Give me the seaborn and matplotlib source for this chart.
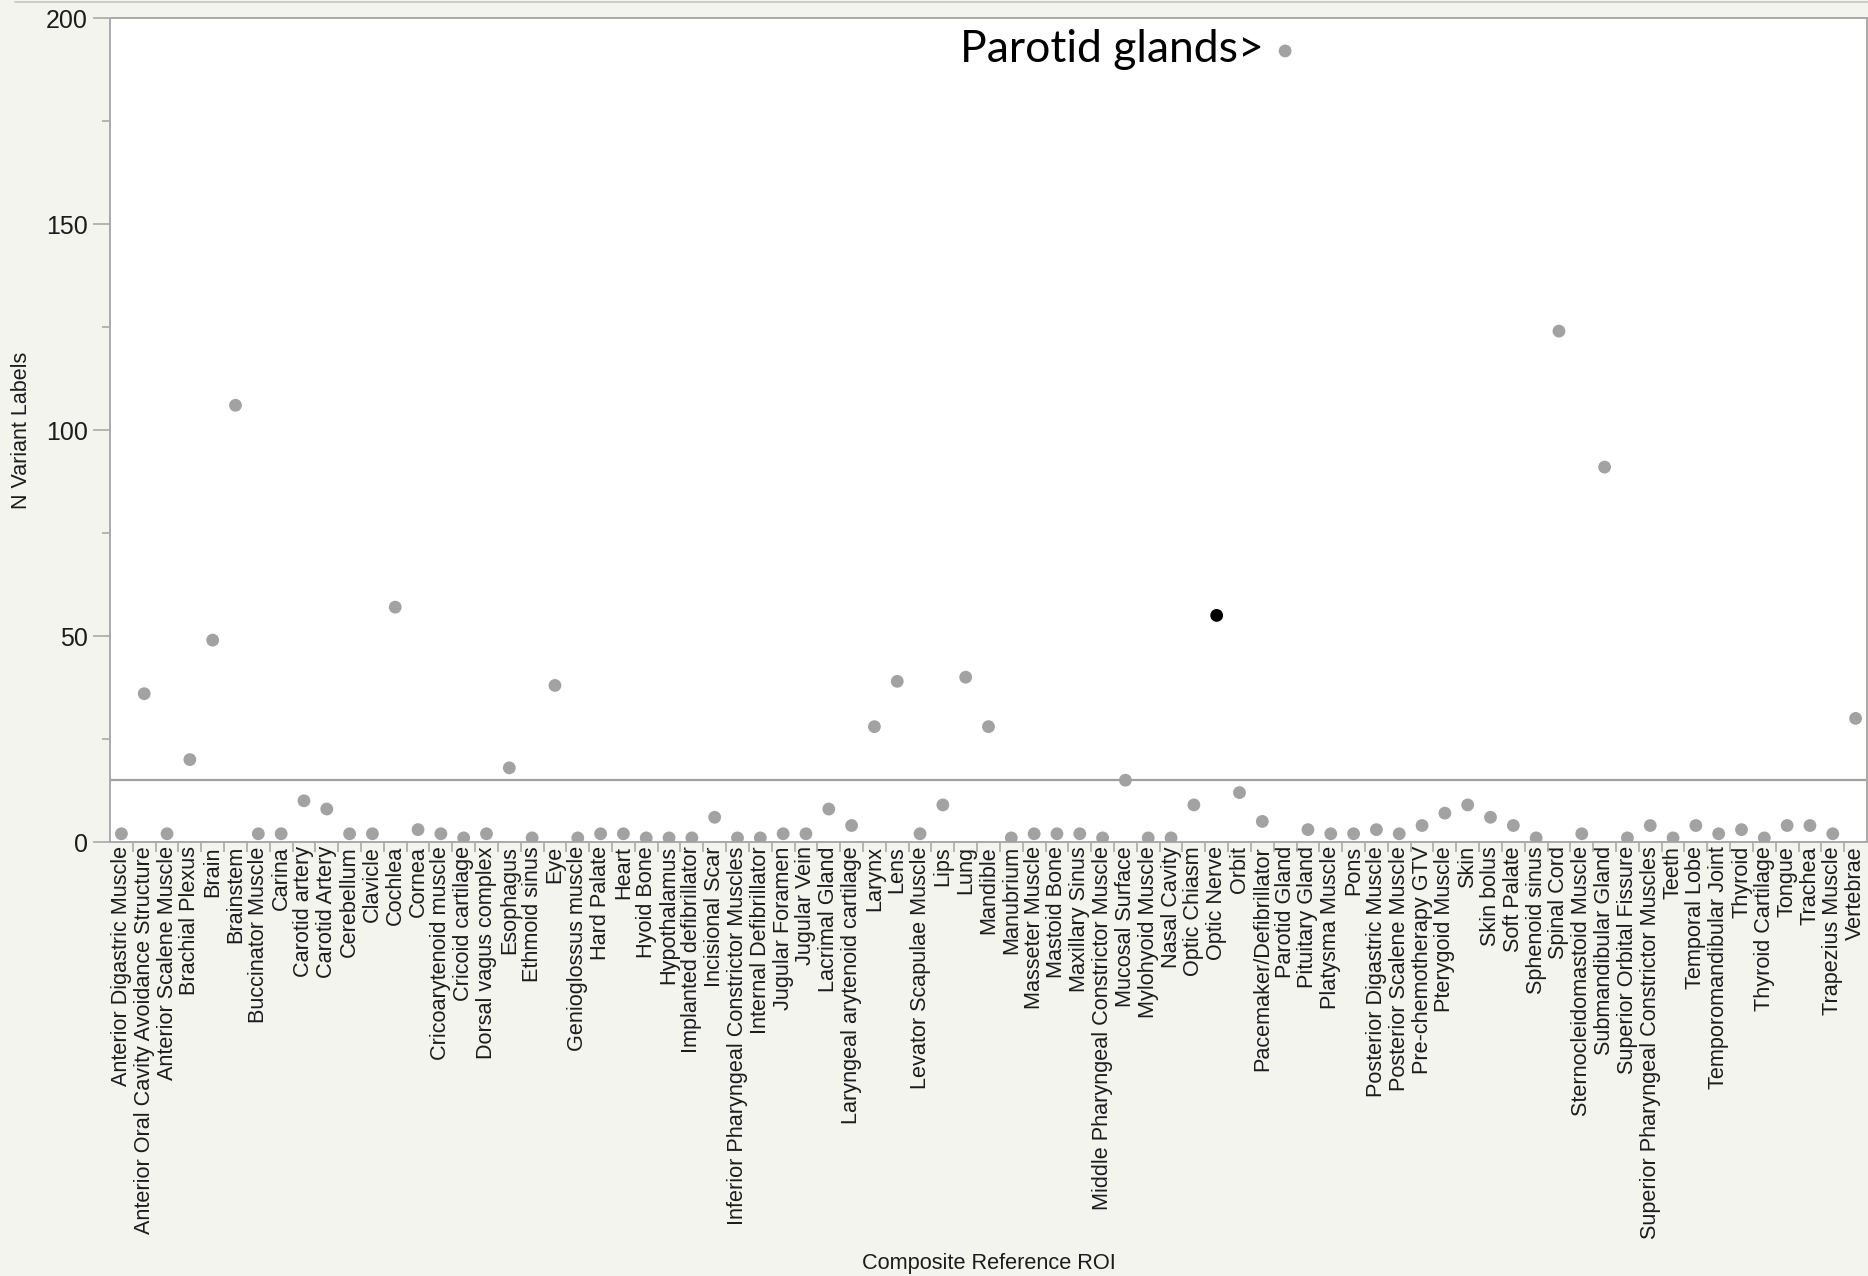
import numpy as np
import pandas as pd
import matplotlib
matplotlib.use("Agg")
import matplotlib.pyplot as plt
from matplotlib.ticker import MultipleLocator, FixedLocator, NullFormatter
from matplotlib.lines import Line2D
import seaborn as sns

# Composite reference ROIs and the number of variant labels mapped to each
rois = [
    "Anterior Digastric Muscle", "Anterior Oral Cavity Avoidance Structure",
    "Anterior Scalene Muscle", "Brachial Plexus", "Brain", "Brainstem",
    "Buccinator Muscle", "Carina", "Carotid artery", "Carotid Artery",
    "Cerebellum", "Clavicle", "Cochlea", "Cornea", "Cricoarytenoid muscle",
    "Cricoid cartilage", "Dorsal vagus complex", "Esophagus", "Ethmoid sinus",
    "Eye", "Genioglossus muscle", "Hard Palate", "Heart", "Hyoid Bone",
    "Hypothalamus", "Implanted defibrillator", "Incisional Scar",
    "Inferior Pharyngeal Constrictor Muscles", "Internal Defibrillator",
    "Jugular Foramen", "Jugular Vein", "Lacrimal Gland",
    "Laryngeal arytenoid cartilage", "Larynx", "Lens",
    "Levator Scapulae Muscle", "Lips", "Lung", "Mandible", "Manubrium",
    "Masseter Muscle", "Mastoid Bone", "Maxillary Sinus",
    "Middle Pharyngeal Constrictor Muscle", "Mucosal Surface",
    "Mylohyoid Muscle", "Nasal Cavity", "Optic Chiasm", "Optic Nerve", "Orbit",
    "Pacemaker/Defibrillator", "Parotid Gland", "Pituitary Gland",
    "Platysma Muscle", "Pons", "Posterior Digastric Muscle",
    "Posterior Scalene Muscle", "Pre-chemotherapy GTV", "Pterygoid Muscle",
    "Skin", "Skin bolus", "Soft Palate", "Sphenoid sinus", "Spinal Cord",
    "Sternocleidomastoid Muscle", "Submandibular Gland",
    "Superior Orbital Fissure", "Superior Pharyngeal Constrictor Muscles",
    "Teeth", "Temporal Lobe", "Temporomandibular Joint", "Thyroid",
    "Thyroid Cartilage", "Tongue", "Trachea", "Trapezius Muscle", "Vertebrae",
]

n_variant_labels = [
    2, 36, 2, 20, 49, 106, 2, 2, 10, 8,
    2, 2, 57, 3, 2, 1, 2, 18, 1, 38,
    1, 2, 2, 1, 1, 1, 6, 1, 1, 2,
    2, 8, 4, 28, 39, 2, 9, 40, 28, 1,
    2, 2, 2, 1, 15, 1, 1, 9, 55, 12,
    5, 192, 3, 2, 2, 3, 2, 4, 7, 9,
    6, 4, 1, 124, 2, 91, 1, 4, 1, 4,
    2, 3, 1, 4, 4, 2, 30,
]

highlighted_roi = "Optic Nerve"
callout_roi = "Parotid Gland"
callout_text = "Parotid glands>"

x_title = "Composite Reference ROI"
y_title = "N Variant Labels"

df = pd.DataFrame({"roi": rois, "n": n_variant_labels})
df["selected"] = np.where(df["roi"] == highlighted_roi, "yes", "no")

sns.set_style("white")
plt.rcParams["font.family"] = ["Liberation Sans", "DejaVu Sans"]

panel_bg = "#f4f4ef"
axis_grey = "#a9a9a9"
text_col = "#1c1c1c"

fig = plt.figure(figsize=(18.68, 12.76), dpi=100, facecolor=panel_bg)
ax = fig.add_axes([110 / 1868, 434 / 1276, 1757 / 1868, 824 / 1276])
ax.set_facecolor("white")

sns.scatterplot(
    data=df, x="roi", y="n", hue="selected",
    palette={"no": "#a2a2a2", "yes": "#000000"},
    s=85, edgecolor="none", legend=False, ax=ax, zorder=3,
)

# overall mean across all ROIs
ax.axhline(df["n"].mean(), color="#a0a0a0", lw=1.6, zorder=2)

n_cat = len(rois)
ax.set_xlim(-0.5, n_cat - 0.5)
ax.set_ylim(0, 200)

# y axis: major + minor ticks
ax.yaxis.set_major_locator(MultipleLocator(50))
ax.yaxis.set_minor_locator(MultipleLocator(25))
ax.tick_params(axis="y", which="major", length=12, width=1.2, color=axis_grey,
               labelsize=18, labelcolor=text_col, pad=4, left=True)
ax.tick_params(axis="y", which="minor", length=6, width=1.2, color=axis_grey,
               left=True)

# x axis: category labels, separators between categories
ax.set_xticks(range(n_cat))
ax.set_xticklabels(rois, rotation=90, ha="center", va="top")
ax.xaxis.set_minor_locator(FixedLocator(np.arange(0.5, n_cat - 0.5, 1.0)))
ax.xaxis.set_minor_formatter(NullFormatter())
ax.tick_params(axis="x", which="major", length=0, labelsize=15.6,
               labelcolor=text_col, pad=3, bottom=True)
ax.tick_params(axis="x", which="minor", length=7, width=1.2, color=axis_grey,
               bottom=True)

for side in ["left", "bottom", "top", "right"]:
    ax.spines[side].set_visible(True)
    ax.spines[side].set_color(axis_grey)
    ax.spines[side].set_linewidth(1.4)

ax.set_xlabel("")
ax.set_ylabel("")
pos = ax.get_position()
fig.text(22 / 1868, pos.y0 + pos.height / 2,
         y_title, rotation=90, ha="center", va="center",
         fontsize=15.5, color=text_col)
fig.text(pos.x0 + pos.width / 2, 1 - 1263 / 1276, x_title,
         ha="center", va="center", fontsize=15.7, color=text_col)

# callout pointing at the parotid gland point
ci = rois.index(callout_roi)
ax.annotate(callout_text, xy=(ci, n_variant_labels[ci]),
            xytext=(-21, -11), textcoords="offset pixels",
            ha="right", va="baseline", fontsize=32, color="#000000",
            family=["Lato", "DejaVu Sans"])

# thin border along the top of the panel
fig.add_artist(Line2D([0.008, 1.0], [0.9985, 0.9985], color="#c4c4c4",
                      lw=1.2, transform=fig.transFigure))

fig.savefig("out.png", dpi=100, facecolor=panel_bg)
